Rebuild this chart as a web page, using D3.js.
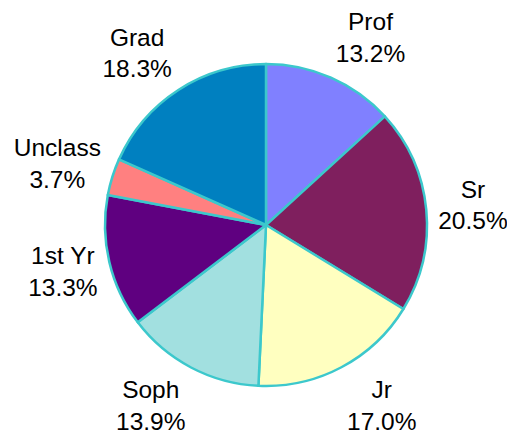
<!DOCTYPE html>
<html><head><meta charset="utf-8">
<script src="https://cdn.jsdelivr.net/npm/d3@7"></script>
<style>html,body{margin:0;padding:0;background:#fff;}</style>
</head><body>
<svg id="chart" width="507" height="441"></svg>
<script>
const categories = ["Prof", "Sr", "Jr", "Soph", "1st Yr", "Unclass", "Grad"];
const values = [13.2, 20.5, 17.0, 13.9, 13.3, 3.7, 18.3];
const labels = ["13.2%", "20.5%", "17.0%", "13.9%", "13.3%", "3.7%", "18.3%"];
const colors = ["#8080FF", "#7F1F5E", "#FFFFC0", "#A2E0E0", "#5F0080", "#FF8080", "#0080C0"];

const svg = d3.select("#chart");
const cx = 266, cy = 225, r = 161;
const g = svg.append("g").attr("transform", `translate(${cx},${cy})`);

const data = categories.map((c, i) => ({cat: c, value: values[i], label: labels[i], color: colors[i]}));
const pie = d3.pie().value(d => d.value).sort(null);
const arc = d3.arc().innerRadius(0).outerRadius(r);
const arcs = pie(data);

g.selectAll("path").data(arcs).enter().append("path")
  .attr("d", arc)
  .attr("fill", d => d.data.color)
  .attr("stroke", "#3CC8CC")
  .attr("stroke-width", 2.5)
  .attr("stroke-linejoin", "round");

const fontSize = 24.5, lineH = 31.5, labelR = 173;
arcs.forEach(a => {
  const mid = (a.startAngle + a.endAngle) / 2;
  const ux = Math.sin(mid), uy = -Math.cos(mid);
  const t = g.append("text")
    .attr("font-family", "'Liberation Sans', Arial, sans-serif")
    .attr("font-size", fontSize)
    .attr("fill", "#000")
    .attr("text-anchor", "middle");
  const t1 = t.append("tspan").text(a.data.cat);
  const t2 = t.append("tspan").text(a.data.label);
  const w = Math.max(t1.node().getComputedTextLength(), t2.node().getComputedTextLength());
  const h = 2 * lineH;
  const px = labelR * ux, py = labelR * uy;
  const bx = px + Math.sign(ux) * w / 2;
  const by = py + uy * h / 2;
  t1.attr("x", bx).attr("y", by - 7.5);
  t2.attr("x", bx).attr("y", by - 7.5 + lineH);
});
</script>
</body></html>
